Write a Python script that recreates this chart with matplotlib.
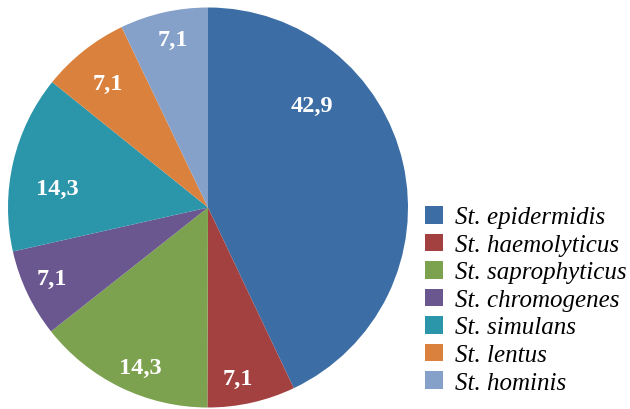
import matplotlib
matplotlib.use("Agg")
import matplotlib.pyplot as plt

species = ["St. epidermidis", "St. haemolyticus", "St. saprophyticus",
           "St. chromogenes", "St. simulans", "St. lentus", "St. hominis"]
values = [42.9, 7.1, 14.3, 7.1, 14.3, 7.1, 7.1]
value_labels = ["42,9", "7,1", "14,3", "7,1", "14,3", "7,1", "7,1"]

colors = ["#3C6EA5", "#A34141", "#7DA24F", "#6A5790", "#2B95AA", "#DA823D", "#85A1C9"]
# label positions (style) in pie-radius units
label_pos = [(0.52, 0.51), (0.15, -0.855), (-0.34, -0.80), (-0.78, -0.355),
             (-0.755, 0.095), (-0.50, 0.62), (-0.175, 0.84)]

plt.rcParams['font.family'] = ['serif']
plt.rcParams['font.serif'] = ['Liberation Serif', 'DejaVu Serif']

fig = plt.figure(figsize=(6.3, 4.1), dpi=100)
ax = fig.add_axes([8/630, 1.5/410, 400/630, 400/410])
wedges, _ = ax.pie(values, colors=colors, startangle=90, counterclock=False,
                   radius=1.0, wedgeprops=dict(linewidth=0))
for (x, y), t in zip(label_pos, value_labels):
    ax.text(x, y, t, ha="center", va="center", color="white",
            fontsize=17.5, fontweight="bold")
ax.set_xlim(-1, 1)
ax.set_ylim(-1, 1)
ax.set_aspect("equal")
ax.axis("off")

leg = fig.legend(wedges, species, loc="upper left",
                 bbox_to_anchor=(425/630, 1 - 207/410), frameon=False,
                 prop=dict(style="italic", size=18),
                 handlelength=0.7, handleheight=0.7, handletextpad=0.5,
                 labelspacing=0.2, borderpad=0.0, borderaxespad=0.0)
fig.savefig("out.png", dpi=100)
